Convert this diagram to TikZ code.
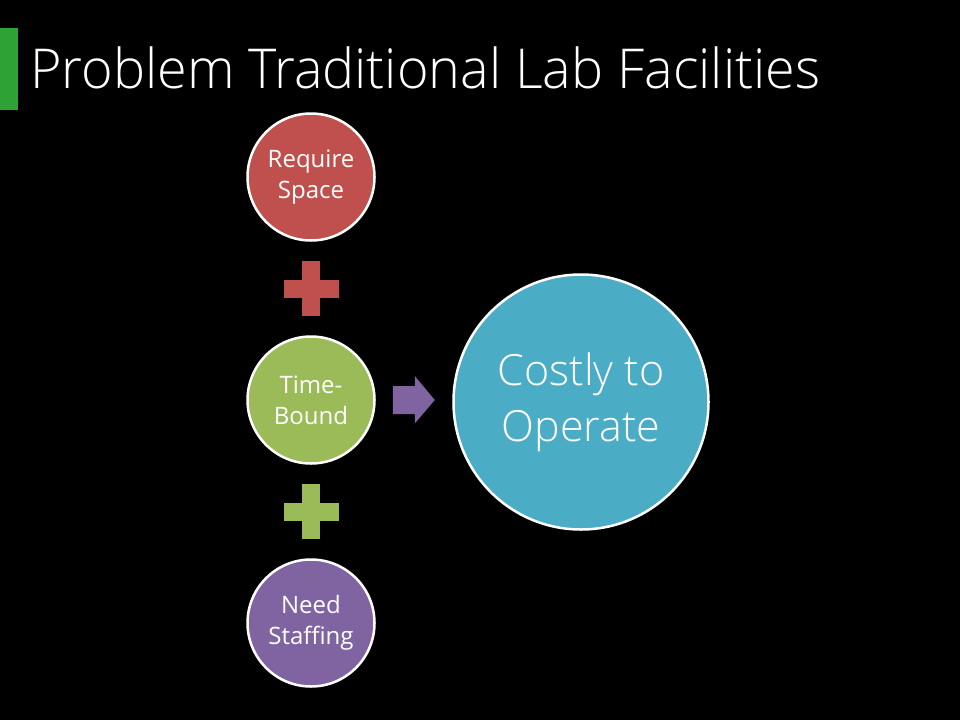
\documentclass[tikz,border=0pt]{standalone}
\usepackage{fontspec}
\setmainfont{Open Sans}
\newfontfamily\thinfont{Open Sans Light}
\usepackage{xcolor}
\usetikzlibrary{positioning}
\usetikzlibrary{calc}
\definecolor{barGreen}{HTML}{2FA236}
\definecolor{bubRed}{HTML}{C0504D}
\definecolor{bubGreen}{HTML}{9BBB59}
\definecolor{bubPurple}{HTML}{8064A2}
\definecolor{bubBlue}{HTML}{4BACC6}
\tikzset{
    bubble/.style={circle, draw=white, line width=2.5pt, text=white, align=center,
        inner sep=0pt, minimum size=127pt, font=\fontsize{24}{31}\selectfont},
    crossbar/.style={inner sep=0pt, minimum width=55pt, minimum height=18pt}
}

\begin{document}
\begin{tikzpicture}[x=1pt,y=-1pt]
        \fill[black] (0,0) rectangle (960,720);
        \fill[barGreen] (0,28) rectangle (18,110);
        \node[anchor=base west, inner sep=0pt, text=white, font=\thinfont\fontsize{55}{60}\selectfont] (title) at (30,88) {\scalebox{0.98}[1]{Problem Traditional Lab Facilities}};
        \node[bubble, fill=bubRed] (space) at (311,177) {Require\\Space};
        \node[bubble, fill=bubGreen] (time) at (311,400) {Time-\\Bound};
        \node[bubble, fill=bubPurple] (staff) at (311,623) {Need\\Staffing};
        \node[bubble, fill=bubBlue, minimum size=255pt, font=\thinfont\fontsize{43}{56}\selectfont] (cost) at (581,402) {Costly to\\Operate};
        \foreach \a/\b/\k in {space/time/bubRed, time/staff/bubGreen}
        {
            \path (\a) -- (\b) node[midway, crossbar, fill=\k] {} node[midway, crossbar, rotate=90, fill=\k] {};
        }
        % arrow between the two columns
        \coordinate (tip) at ($(time.east)+(59,0)$);
        \fill[bubPurple] ($(tip)+(-42,-14)$) -- ++(22,0) -- ++(0,-10) -- (tip) -- ++(-20,23.5) -- ++(0,-9.5) -- ++(-22,0) -- cycle;
    \end{tikzpicture}
\end{document}
